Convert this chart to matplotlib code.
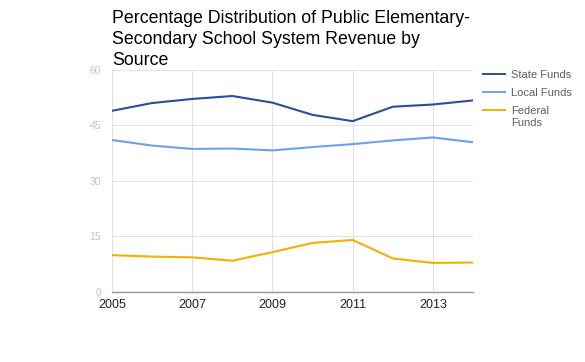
import matplotlib.pyplot as plt

years = [2005, 2006, 2007, 2008, 2009, 2010, 2011, 2012, 2013, 2014]
state_funds = [48.9, 51.0, 52.1, 52.9, 51.1, 47.8, 46.1, 50.0, 50.6, 51.7]
local_funds = [41.0, 39.5, 38.6, 38.7, 38.2, 39.1, 39.9, 40.9, 41.7, 40.4]
federal_funds = [9.9, 9.5, 9.3, 8.4, 10.7, 13.2, 14.0, 9.0, 7.8, 7.9]

x_ticks = [2005, 2007, 2009, 2011, 2013]
y_ticks = [0, 15, 30, 45, 60]

plt.rcParams['font.family'] = ['Liberation Sans', 'DejaVu Sans']

fig = plt.figure(figsize=(5.85, 3.62), dpi=100)
ax = fig.add_axes([0.1915, 0.194, 0.617, 0.6134])

ax.plot(years, state_funds, color="#284f98", lw=1.5, label="State Funds")
ax.plot(years, local_funds, color="#6fa0f0", lw=1.5, label="Local Funds")
ax.plot(years, federal_funds, color="#f4b000", lw=1.5, label="Federal")

ax.set_xlim(2005, 2014)
ax.set_ylim(0, 60)
ax.set_xticks(x_ticks)
ax.set_yticks(y_ticks)
ax.grid(color="#e2e2e2", lw=0.8)
ax.set_axisbelow(True)

for side in ["top", "right", "left"]:
    ax.spines[side].set_visible(False)
ax.spines["bottom"].set_color("#999999")
ax.spines["bottom"].set_linewidth(1.0)

ax.tick_params(axis="x", length=0, pad=5, labelsize=9, labelcolor="#222222")
ax.tick_params(axis="y", length=0, pad=8, labelsize=7.5, labelcolor="#c4c4c4")

fig.text(0.192, 0.972, "Percentage Distribution of Public Elementary-\nSecondary School System Revenue by\nSource",
         ha="left", va="top", fontsize=12.8, color="#000000", linespacing=1.3)

leg = ax.legend(loc="upper left", bbox_to_anchor=(0.826, 0.806), bbox_transform=fig.transFigure,
                frameon=False, fontsize=8, handlelength=2.0, handletextpad=0.5,
                labelspacing=0.7, borderaxespad=0, borderpad=0)
for t in leg.get_texts():
    t.set_color("#5f5f5f")
for h in leg.get_lines():
    h.set_linewidth(1.4)

# wrapped second line of the "Federal Funds" legend label
fig.text(0.8735, 0.661, "Funds", ha="left", va="center", fontsize=8, color="#5f5f5f")

fig.savefig("out.png", dpi=100)
